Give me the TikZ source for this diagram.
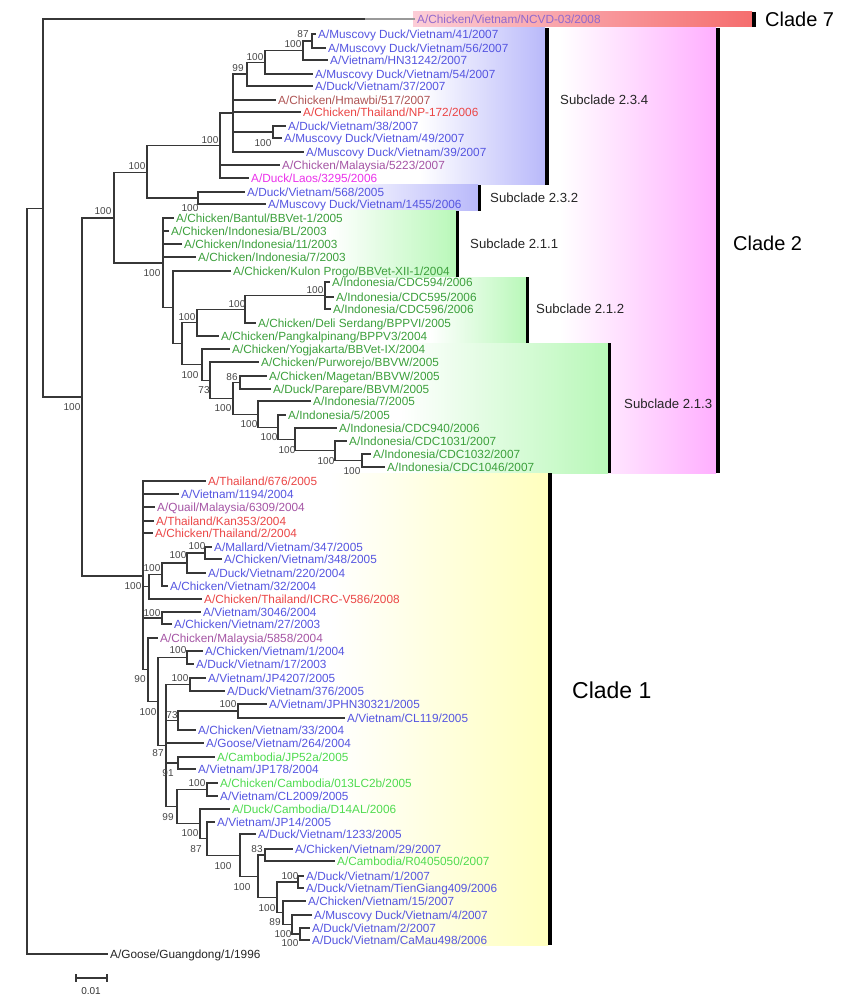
\documentclass[tikz,border=0pt]{standalone}
\usepackage{fontspec}
\setmainfont{Liberation Sans}
\usetikzlibrary{calc}
\definecolor{edgec}{RGB}{55,55,55}
\definecolor{bsc}{RGB}{70,70,70}
\definecolor{vblue}{RGB}{85,85,225}
\definecolor{tred}{RGB}{235,70,70}
\definecolor{hbrown}{RGB}{175,85,85}
\definecolor{mpurp}{RGB}{165,85,165}
\definecolor{lmag}{RGB}{235,50,235}
\definecolor{igreen}{RGB}{60,160,60}
\definecolor{cgreen}{RGB}{80,220,80}
\definecolor{ncvd}{RGB}{145,105,205}
\definecolor{bgblue}{RGB}{185,185,250}
\definecolor{bggreen}{RGB}{185,248,185}
\definecolor{bgyellow}{RGB}{255,255,190}
\definecolor{bgpink}{RGB}{255,175,255}
\definecolor{bgred1}{RGB}{252,205,215}
\definecolor{bgred2}{RGB}{245,110,110}
\newcommand{\lf}[6]{%
  \coordinate (#1) at (#3-2,#4);
  \draw[br] (#2) |- (#1);
  \node[lab,text=#5] (#1t) at (#1) {#6};
}
\begin{document}
\begin{tikzpicture}[x=1pt,y=-1pt,
  br/.style={draw=edgec,line width=1.2pt},
  lab/.style={anchor=west,inner xsep=2pt,inner ysep=0pt,font=\fontsize{11.8}{13}\selectfont,text height=8.4pt,text depth=0pt},
  bs/.style={inner sep=0pt,font=\fontsize{10}{11}\selectfont,text=bsc},
  bar/.style={fill=black,draw=none},
  sub/.style={anchor=west,inner sep=0pt,font=\fontsize{13.2}{15}\selectfont,text=black!85},
  cl/.style={anchor=west,inner sep=0pt,font=\fontsize{20}{22}\selectfont,text=black}]
\useasboundingbox (0,0) rectangle (863,1000);
\fill[white] (0,0) rectangle (863,1000);
% backgrounds
\shade[left color=bgred1,right color=bgred2] (413,12) rectangle (752,27);
\shade[left color=white,right color=bgpink] (560,28) rectangle (716,473);
\shade[left color=white,right color=bgblue] (420,28) rectangle (545,185);
\shade[left color=white,right color=bgblue] (330,185) rectangle (478,211);
\shade[left color=white,right color=bggreen] (330,211) rectangle (456,277);
\shade[left color=white,right color=bggreen] (430,277) rectangle (526,343);
\shade[left color=white,right color=bggreen] (400,343) rectangle (608,473);
\shade[left color=white,right color=bgyellow] (330,473) rectangle (548,945);
% bars
\fill[bar] (752,12) rectangle (756,27);
\fill[bar] (545,28) rectangle (549,185);
\fill[bar] (478,185) rectangle (481,211);
\fill[bar] (456,211) rectangle (459,277);
\fill[bar] (526,277) rectangle (529,343);
\fill[bar] (608,343) rectangle (611,473);
\fill[bar] (716,28) rectangle (720,473);
\fill[bar] (548,473) rectangle (552,945);
% clade labels
\node[cl] (c7) at (765,19) {Clade 7};
\node[cl] (c2) at (733,243) {Clade 2};
\node[cl,font=\fontsize{23}{25}\selectfont] (c1) at (572,690) {Clade 1};
\node[sub] (s234) at (560,100) {Subclade 2.3.4};
\node[sub] (s232) at (490,198) {Subclade 2.3.2};
\node[sub] (s211) at (470,244) {Subclade 2.1.1};
\node[sub] (s212) at (536,309) {Subclade 2.1.2};
\node[sub] (s213) at (624,404) {Subclade 2.1.3};
% internal nodes
\coordinate (Root) at (27,580.75);
\coordinate (R) at (43,208.5);
\coordinate (Q) at (82,397);
\coordinate (I) at (114,218);
\coordinate (H) at (147,172.5);
\coordinate (A) at (220,145.5);
\coordinate (B) at (233,113);
\coordinate (C) at (247,74.1);
\coordinate (E) at (265,62.25);
\coordinate (F) at (303,50.5);
\coordinate (G) at (312,41);
\coordinate (D) at (273,132);
\coordinate (J) at (198,198);
\coordinate (K) at (163,263);
\coordinate (L) at (173,307.3);
\coordinate (N) at (182,343.6);
\coordinate (M) at (197,322.6);
\coordinate (AC) at (245,309.25);
\coordinate (AD) at (325,295.5);
\coordinate (S) at (202,364.6);
\coordinate (U) at (210,380.2);
\coordinate (V) at (233,398.3);
\coordinate (W) at (240,382.5);
\coordinate (X) at (258,414.1);
\coordinate (Y) at (278,427.2);
\coordinate (Z) at (295,439.4);
\coordinate (AA) at (335,450.75);
\coordinate (AB) at (362,460.5);
\coordinate (CA) at (143,576);
\coordinate (CB) at (149,586.75);
\coordinate (CC) at (162,574.5);
\coordinate (CD) at (187,563);
\coordinate (MV) at (205,553);
\coordinate (CE) at (162,618);
\coordinate (CG) at (148,669.8);
\coordinate (CH) at (158,701.5);
\coordinate (CI) at (187,657.5);
\coordinate (CL) at (166,745.6);
\coordinate (CM) at (190,684.5);
\coordinate (CN) at (178,720.5);
\coordinate (CQ) at (238,711);
\coordinate (CO) at (178,763);
\coordinate (CP) at (177,806.6);
\coordinate (CR) at (207,789.5);
\coordinate (CS) at (200,823.8);
\coordinate (CT) at (207,838.6);
\coordinate (CU) at (240,855.1);
\coordinate (CV) at (258,876.2);
\coordinate (CW) at (265,855);
\coordinate (CX) at (277,897.4);
\coordinate (CY) at (298,882);
\coordinate (CZ) at (283,912.75);
\coordinate (DA) at (292,924.5);
\coordinate (DB) at (300,934);
\foreach \p/\c in {Root/R, R/Q, Q/I, I/H, H/A, A/B, B/C, C/E, E/F, F/G, B/D, H/J, I/K, K/L, L/N, N/M, M/AC, AC/AD, N/S, S/U, U/V, V/W, V/X, X/Y, Y/Z, Z/AA, AA/AB, Q/CA, CA/CB, CB/CC, CC/CD, CD/MV, CA/CE, CA/CG, CG/CH, CH/CI, CH/CL, CL/CM, CL/CN, CN/CQ, CL/CO, CL/CP, CP/CR, CP/CS, CS/CT, CT/CU, CU/CV, CV/CW, CV/CX, CX/CY, CX/CZ, CZ/DA, DA/DB}
  \draw[br] (\p) |- (\c);
% leaves
\lf{l1}{R}{417}{19}{ncvd}{A/Chicken/Vietnam/NCVD-03/2008}
\draw[line width=1.2pt,black!40] (365,19) -- (l1);
\lf{l2}{G}{318}{34}{vblue}{A/Muscovy Duck/Vietnam/41/2007}
\lf{l3}{G}{328}{48}{vblue}{A/Muscovy Duck/Vietnam/56/2007}
\lf{l4}{F}{330}{60}{vblue}{A/Vietnam/HN31242/2007}
\lf{l5}{E}{315}{74}{vblue}{A/Muscovy Duck/Vietnam/54/2007}
\lf{l6}{C}{315}{86}{vblue}{A/Duck/Vietnam/37/2007}
\lf{l7}{B}{278}{100}{hbrown}{A/Chicken/Hmawbi/517/2007}
\lf{l8}{B}{303}{112}{tred}{A/Chicken/Thailand/NP-172/2006}
\lf{l9}{D}{288}{126}{vblue}{A/Duck/Vietnam/38/2007}
\lf{l10}{D}{284}{138}{vblue}{A/Muscovy Duck/Vietnam/49/2007}
\lf{l11}{B}{306}{152}{vblue}{A/Muscovy Duck/Vietnam/39/2007}
\lf{l12}{A}{282}{165}{mpurp}{A/Chicken/Malaysia/5223/2007}
\lf{l13}{A}{251}{178}{lmag}{A/Duck/Laos/3295/2006}
\lf{l14}{J}{247}{192}{vblue}{A/Duck/Vietnam/568/2005}
\lf{l15}{J}{268}{204}{vblue}{A/Muscovy Duck/Vietnam/1455/2006}
\lf{l16}{K}{176}{218}{igreen}{A/Chicken/Bantul/BBVet-1/2005}
\lf{l17}{K}{171}{231}{igreen}{A/Chicken/Indonesia/BL/2003}
\lf{l18}{K}{184}{244}{igreen}{A/Chicken/Indonesia/11/2003}
\lf{l19}{K}{198}{257}{igreen}{A/Chicken/Indonesia/7/2003}
\lf{l20}{L}{233}{271}{igreen}{A/Chicken/Kulon Progo/BBVet-XII-1/2004}
\lf{l21}{AD}{332}{282}{igreen}{A/Indonesia/CDC594/2006}
\lf{l22}{AD}{336}{297}{igreen}{A/Indonesia/CDC595/2006}
\lf{l23}{AD}{333}{309}{igreen}{A/Indonesia/CDC596/2006}
\lf{l24}{AC}{258}{323}{igreen}{A/Chicken/Deli Serdang/BPPVI/2005}
\lf{l25}{M}{221}{336}{igreen}{A/Chicken/Pangkalpinang/BPPV3/2004}
\lf{l26}{S}{232}{349}{igreen}{A/Chicken/Yogjakarta/BBVet-IX/2004}
\lf{l27}{U}{261}{362}{igreen}{A/Chicken/Purworejo/BBVW/2005}
\lf{l28}{W}{269}{376}{igreen}{A/Chicken/Magetan/BBVW/2005}
\lf{l29}{W}{273}{389}{igreen}{A/Duck/Parepare/BBVM/2005}
\lf{l30}{X}{313}{401}{igreen}{A/Indonesia/7/2005}
\lf{l31}{Y}{288}{415}{igreen}{A/Indonesia/5/2005}
\lf{l32}{Z}{339}{428}{igreen}{A/Indonesia/CDC940/2006}
\lf{l33}{AA}{349}{441}{igreen}{A/Indonesia/CDC1031/2007}
\lf{l34}{AB}{373}{454}{igreen}{A/Indonesia/CDC1032/2007}
\lf{l35}{AB}{387}{467}{igreen}{A/Indonesia/CDC1046/2007}
\lf{l36}{CA}{208}{481}{tred}{A/Thailand/676/2005}
\lf{l37}{CA}{181}{494}{vblue}{A/Vietnam/1194/2004}
\lf{l38}{CA}{157}{507}{mpurp}{A/Quail/Malaysia/6309/2004}
\lf{l39}{CA}{156}{521}{tred}{A/Thailand/Kan353/2004}
\lf{l40}{CA}{155}{533}{tred}{A/Chicken/Thailand/2/2004}
\lf{l41}{MV}{214}{547}{vblue}{A/Mallard/Vietnam/347/2005}
\lf{l42}{MV}{224}{559}{vblue}{A/Chicken/Vietnam/348/2005}
\lf{l43}{CD}{208}{573}{vblue}{A/Duck/Vietnam/220/2004}
\lf{l44}{CC}{170}{586}{vblue}{A/Chicken/Vietnam/32/2004}
\lf{l45}{CB}{204}{599}{tred}{A/Chicken/Thailand/ICRC-V586/2008}
\lf{l46}{CE}{203}{612}{vblue}{A/Vietnam/3046/2004}
\lf{l47}{CE}{174}{624}{vblue}{A/Chicken/Vietnam/27/2003}
\lf{l48}{CG}{160}{638}{mpurp}{A/Chicken/Malaysia/5858/2004}
\lf{l49}{CI}{205}{651}{vblue}{A/Chicken/Vietnam/1/2004}
\lf{l50}{CI}{196}{664}{vblue}{A/Duck/Vietnam/17/2003}
\lf{l51}{CM}{208}{678}{vblue}{A/Vietnam/JP4207/2005}
\lf{l52}{CM}{227}{691}{vblue}{A/Duck/Vietnam/376/2005}
\lf{l53}{CQ}{269}{704}{vblue}{A/Vietnam/JPHN30321/2005}
\lf{l54}{CQ}{347}{718}{vblue}{A/Vietnam/CL119/2005}
\lf{l55}{CN}{198}{730}{vblue}{A/Chicken/Vietnam/33/2004}
\lf{l56}{CL}{206}{743}{vblue}{A/Goose/Vietnam/264/2004}
\lf{l57}{CO}{217}{757}{cgreen}{A/Cambodia/JP52a/2005}
\lf{l58}{CO}{198}{769}{vblue}{A/Vietnam/JP178/2004}
\lf{l59}{CR}{220}{783}{cgreen}{A/Chicken/Cambodia/013LC2b/2005}
\lf{l60}{CR}{220}{796}{vblue}{A/Vietnam/CL2009/2005}
\lf{l61}{CS}{232}{809}{cgreen}{A/Duck/Cambodia/D14AL/2006}
\lf{l62}{CT}{217}{822}{vblue}{A/Vietnam/JP14/2005}
\lf{l63}{CU}{258}{834}{vblue}{A/Duck/Vietnam/1233/2005}
\lf{l64}{CW}{295}{849}{vblue}{A/Chicken/Vietnam/29/2007}
\lf{l65}{CW}{337}{861}{cgreen}{A/Cambodia/R0405050/2007}
\lf{l66}{CY}{306}{876}{vblue}{A/Duck/Vietnam/1/2007}
\lf{l67}{CY}{306}{888}{vblue}{A/Duck/Vietnam/TienGiang409/2006}
\lf{l68}{CZ}{308}{901}{vblue}{A/Chicken/Vietnam/15/2007}
\lf{l69}{DA}{314}{915}{vblue}{A/Muscovy Duck/Vietnam/4/2007}
\lf{l70}{DB}{312}{928}{vblue}{A/Duck/Vietnam/2/2007}
\lf{l71}{DB}{312}{940}{vblue}{A/Duck/Vietnam/CaMau498/2006}
\lf{l72}{Root}{110}{954}{black!85}{A/Goose/Guangdong/1/1996}
% bootstrap values
\foreach \x/\y/\t [count=\i] in {303/34/87, 293/44/100, 255/57/100, 238/68/99, 263/143/100, 210/140/100, 137/166/100, 190/208/100, 103/211/100, 152/273/100, 315/290/100, 237/304/100, 187/317/100, 190/375/100, 204/390/73, 232/377/86, 223/408/100, 249/424/100, 269/437/100, 287/450/100, 326/461/100, 352/471/100, 72/407/100, 197/546/100, 178/555/100, 152/568/100, 133/586/100, 152/613/100, 178/650/100, 140/679/90, 180/678/100, 148/712/100, 228/704/100, 172/715/73, 158/753/87, 168/773/91, 197/783/100, 168/817/99, 190/833/100, 196/849/87, 257/849/83, 223/866/100, 290/876/100, 242/887/100, 267/908/100, 275/922/89, 283/934/100, 290/943/100}
  \node[bs] (bs\i) at (\x,\y) {\t};
% scale bar
\coordinate (sb1) at (76,978);
\coordinate (sb2) at (107,978);
\draw[br] (sb1) -- (sb2);
\draw[br] ($(sb1)+(0,-4)$) -- ($(sb1)+(0,4)$);
\draw[br] ($(sb2)+(0,-4)$) -- ($(sb2)+(0,4)$);
\node[bs,text=black!80] (sbl) at (91,991) {0.01};
\end{tikzpicture}
\end{document}
